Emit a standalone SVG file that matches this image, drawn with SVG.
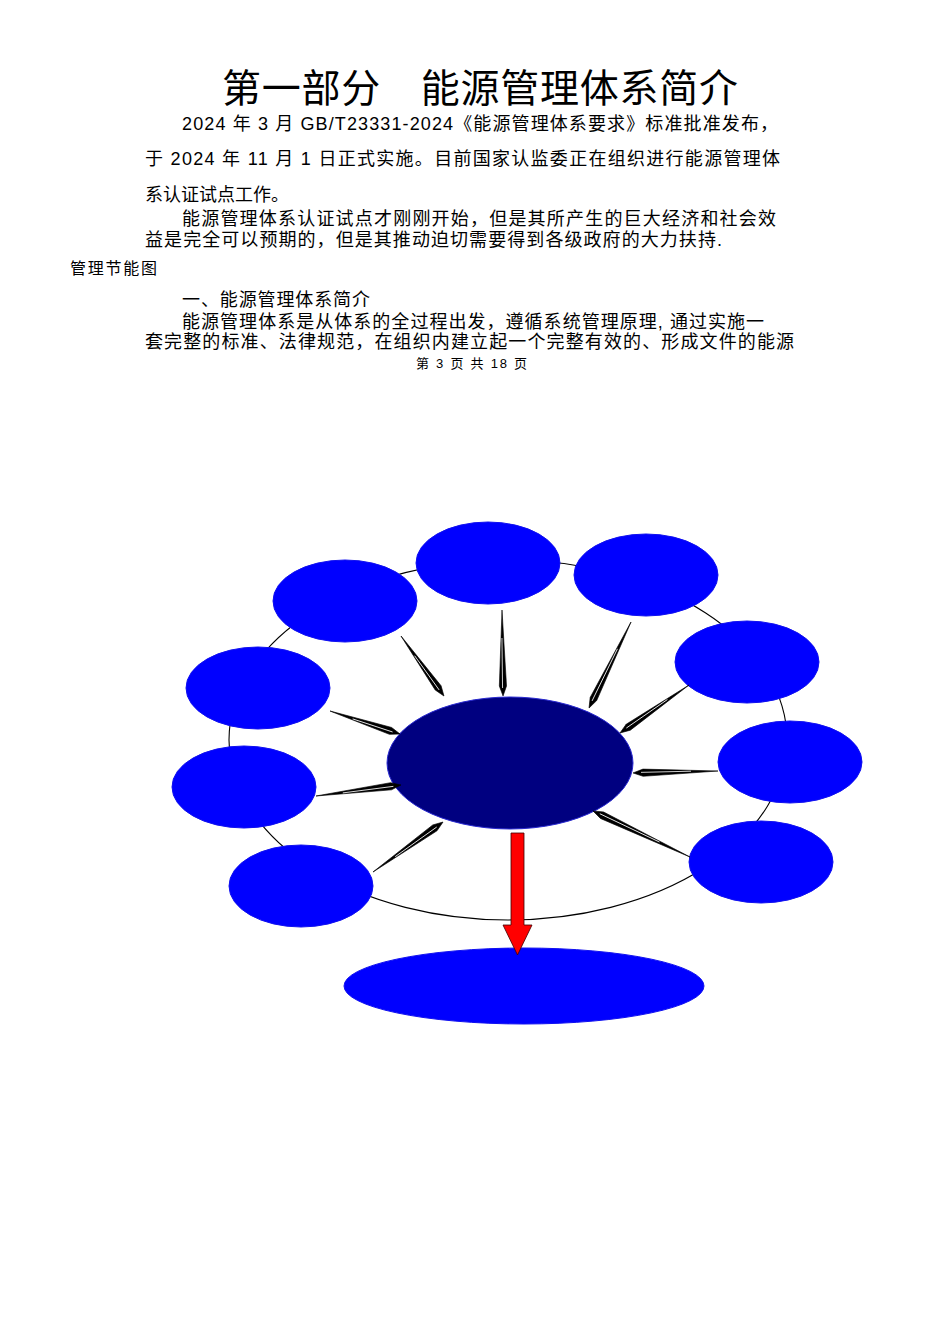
<svg xmlns="http://www.w3.org/2000/svg" width="950" height="1344" viewBox="0 0 950 1344">
<style>
.t{font-family:"Liberation Sans","Noto Sans CJK SC",sans-serif;fill:#000}
.b{font-size:18px}
.sat{fill:#0000ff;stroke:#1010f0;stroke-width:1}
.ctr{fill:#000080;stroke:#2a2ad0;stroke-width:1}
.spk{fill:#000;stroke:#000;stroke-width:0.6;stroke-linejoin:miter}
.spw{stroke:#fff;stroke-width:0.8;fill:none}
.ring{fill:none;stroke:#000;stroke-width:1.1}
</style>
<rect width="950" height="1344" fill="#fff"/>
<g id="text">
<text class="t" x="222" y="102" font-size="39" textLength="516" lengthAdjust="spacing">第一部分　能源管理体系简介</text>
<text class="t b" x="182" y="130" textLength="596" lengthAdjust="spacing">2024 年 3 月 GB/T23331-2024《能源管理体系要求》标准批准发布，</text>
<text class="t b" x="145" y="165" textLength="635" lengthAdjust="spacing">于 2024 年 11 月 1 日正式实施。目前国家认监委正在组织进行能源管理体</text>
<text class="t b" x="145" y="201" textLength="144" lengthAdjust="spacing">系认证试点工作。</text>
<text class="t b" x="182" y="225" textLength="594" lengthAdjust="spacing">能源管理体系认证试点才刚刚开始，但是其所产生的巨大经济和社会效</text>
<text class="t b" x="145" y="246" textLength="577" lengthAdjust="spacing">益是完全可以预期的，但是其推动迫切需要得到各级政府的大力扶持.</text>
<text class="t" x="70" y="274" font-size="16" textLength="87" lengthAdjust="spacing">管理节能图</text>
<text class="t b" x="182" y="306" textLength="188" lengthAdjust="spacing">一、能源管理体系简介</text>
<text class="t b" x="182" y="328" textLength="582" lengthAdjust="spacing">能源管理体系是从体系的全过程出发，遵循系统管理原理, 通过实施一</text>
<text class="t b" x="145" y="348" textLength="649" lengthAdjust="spacing">套完整的标准、法律规范，在组织内建立起一个完整有效的、形成文件的能源</text>
<text class="t" x="416" y="368" font-size="13" textLength="111" lengthAdjust="spacing">第 3 页 共 18 页</text>
</g>
<g id="connectors">
<ellipse class="ring" cx="508" cy="740" rx="279" ry="180"/>
</g>
<g id="node-top-center"><ellipse class="sat" cx="488" cy="563" rx="72" ry="41"/></g>
<g id="node-top-right"><ellipse class="sat" cx="646" cy="575" rx="72" ry="41"/></g>
<g id="node-top-left"><ellipse class="sat" cx="345" cy="601" rx="72" ry="41"/></g>
<g id="node-right-1"><ellipse class="sat" cx="747" cy="662" rx="72" ry="41"/></g>
<g id="node-left-1"><ellipse class="sat" cx="258" cy="688" rx="72" ry="41"/></g>
<g id="node-right-2"><ellipse class="sat" cx="790" cy="762" rx="72" ry="41"/></g>
<g id="node-left-2"><ellipse class="sat" cx="244" cy="787" rx="72" ry="41"/></g>
<g id="node-right-3"><ellipse class="sat" cx="761" cy="862" rx="72" ry="41"/></g>
<g id="node-bottom-left"><ellipse class="sat" cx="301" cy="886" rx="72" ry="41"/></g>
<g id="node-center"><ellipse class="ctr" cx="510" cy="763" rx="123" ry="66"/></g>
<g id="node-bottom"><ellipse class="sat" cx="524" cy="986" rx="180" ry="38"/></g>
<g id="spikes">
<g transform="translate(401,636) rotate(54.4)"><path class="spk" d="M0,0 L63.8,-3.6 L73.8,0 L63.8,3.6 Z"/><path class="spw" d="M24,0.4 L66,0.4"/></g>
<g transform="translate(502,610) rotate(89.3)"><path class="spk" d="M0,0 L76,-3.6 L86,0 L76,3.6 Z"/><path class="spw" d="M28,0.4 L78,0.4"/></g>
<g transform="translate(631,622) rotate(116)"><path class="spk" d="M0,0 L85.7,-3.6 L95.7,0 L85.7,3.6 Z"/><path class="spw" d="M30,0.4 L88,0.4"/></g>
<g transform="translate(689,685) rotate(145.2)"><path class="spk" d="M0,0 L74,-3.6 L84,0 L74,3.6 Z"/><path class="spw" d="M26,0.4 L76,0.4"/></g>
<g transform="translate(718,771) rotate(178.7)"><path class="spk" d="M0,0 L75,-3.6 L85,0 L75,3.6 Z"/><path class="spw" d="M27,0.4 L77,0.4"/></g>
<g transform="translate(690,857) rotate(205.4)"><path class="spk" d="M0,0 L97.4,-3.6 L107.4,0 L97.4,3.6 Z"/><path class="spw" d="M34,0.4 L100,0.4"/></g>
<g transform="translate(330,711) rotate(18.2)"><path class="spk" d="M0,0 L63.7,-3.6 L73.7,0 L63.7,3.6 Z"/><path class="spw" d="M24,0.4 L66,0.4"/></g>
<g transform="translate(316,796) rotate(-7.4)"><path class="spk" d="M0,0 L75.7,-3.6 L85.7,0 L75.7,3.6 Z"/><path class="spw" d="M27,0.4 L78,0.4"/></g>
<g transform="translate(373,872) rotate(-35.5)"><path class="spk" d="M0,0 L76,-3.6 L86,0 L76,3.6 Z"/><path class="spw" d="M27,0.4 L78,0.4"/></g>
</g>
<g id="down-arrow">
<path d="M511,833 L524,833 L524,925 L532,925 L517.5,955 L503,925 L511,925 Z" fill="#ff0000" stroke="#400000" stroke-width="0.8"/>
</g>
</svg>
